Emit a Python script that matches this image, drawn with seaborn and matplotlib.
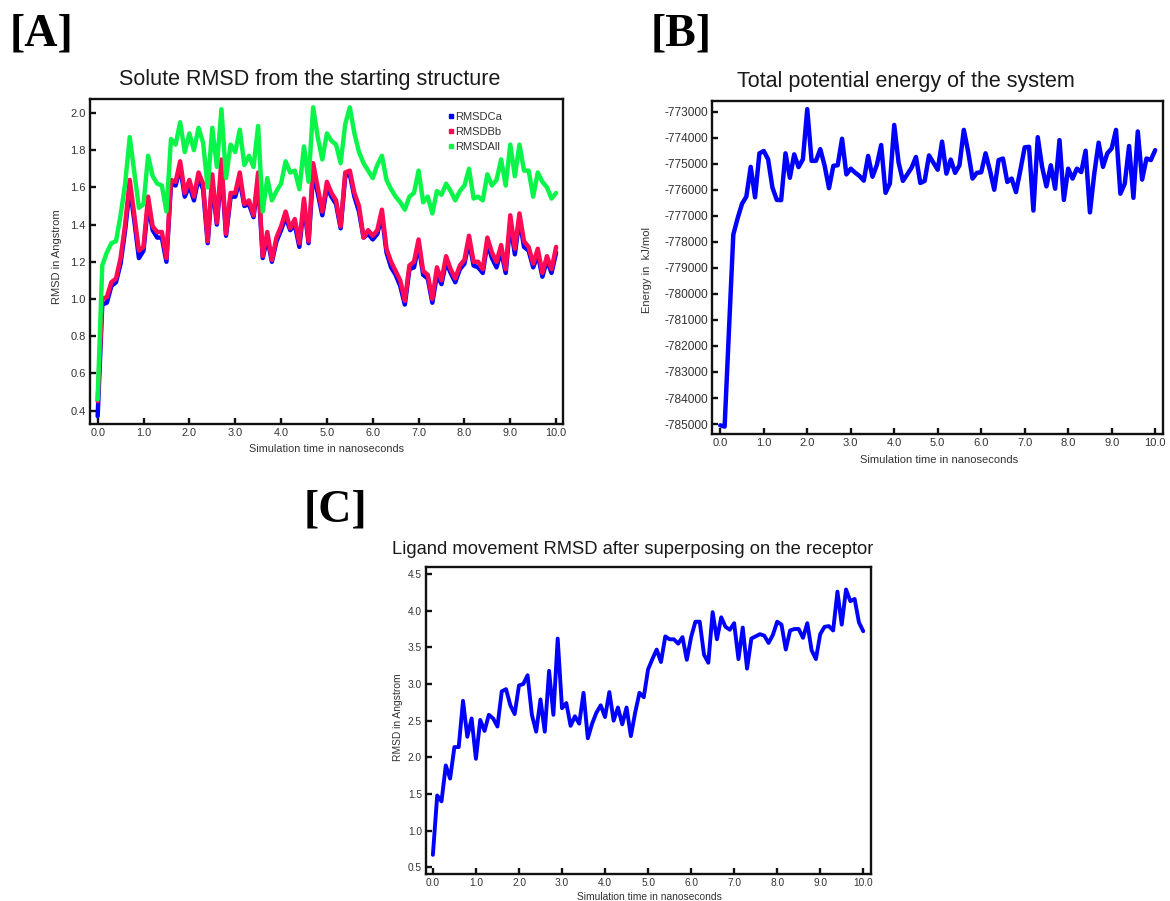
import numpy as np
import pandas as pd
import matplotlib
matplotlib.use("Agg")
import matplotlib.pyplot as plt
from matplotlib.lines import Line2D
import seaborn as sns

# ---------------------------------------------------------
# data (0.1 ns sampling, 0..10 ns)
# ---------------------------------------------------------
time_ns = np.round(np.arange(101) * 0.1, 1)

rmsd_ca = [
    0.37, 0.97, 0.98, 1.07, 1.09, 1.19, 1.37, 1.60, 1.42, 1.22,
    1.26, 1.51, 1.37, 1.33, 1.33, 1.20, 1.62, 1.61, 1.71, 1.55,
    1.61, 1.53, 1.65, 1.59, 1.30, 1.63, 1.40, 1.70, 1.34, 1.55,
    1.55, 1.64, 1.50, 1.51, 1.44, 1.64, 1.22, 1.33, 1.20, 1.31,
    1.37, 1.44, 1.37, 1.40, 1.28, 1.51, 1.30, 1.68, 1.57, 1.45,
    1.60, 1.55, 1.51, 1.38, 1.66, 1.67, 1.55, 1.47, 1.33, 1.35,
    1.32, 1.35, 1.45, 1.25, 1.17, 1.13, 1.07, 0.97, 1.16, 1.17,
    1.29, 1.13, 1.11, 0.98, 1.13, 1.08, 1.20, 1.14, 1.09, 1.16,
    1.19, 1.31, 1.18, 1.17, 1.14, 1.30, 1.22, 1.17, 1.26, 1.14,
    1.41, 1.24, 1.43, 1.28, 1.26, 1.17, 1.24, 1.12, 1.21, 1.14,
    1.25,
]

rmsd_bb = [
    0.45, 1.00, 1.01, 1.09, 1.11, 1.22, 1.40, 1.64, 1.45, 1.26,
    1.28, 1.55, 1.39, 1.36, 1.36, 1.22, 1.64, 1.63, 1.74, 1.57,
    1.64, 1.55, 1.68, 1.62, 1.31, 1.67, 1.41, 1.75, 1.35, 1.57,
    1.57, 1.68, 1.51, 1.53, 1.45, 1.68, 1.23, 1.36, 1.21, 1.33,
    1.39, 1.47, 1.38, 1.43, 1.30, 1.54, 1.31, 1.73, 1.60, 1.47,
    1.63, 1.57, 1.53, 1.39, 1.68, 1.69, 1.57, 1.50, 1.33, 1.37,
    1.34, 1.37, 1.48, 1.27, 1.20, 1.15, 1.10, 0.99, 1.18, 1.20,
    1.32, 1.15, 1.13, 1.00, 1.17, 1.10, 1.23, 1.16, 1.11, 1.18,
    1.21, 1.34, 1.20, 1.20, 1.16, 1.33, 1.25, 1.20, 1.29, 1.16,
    1.45, 1.27, 1.46, 1.31, 1.28, 1.19, 1.27, 1.14, 1.23, 1.16,
    1.28,
]

rmsd_all = [
    0.46, 1.18, 1.25, 1.30, 1.31, 1.45, 1.62, 1.87, 1.68, 1.49,
    1.51, 1.77, 1.66, 1.62, 1.61, 1.47, 1.86, 1.83, 1.95, 1.79,
    1.89, 1.80, 1.92, 1.84, 1.60, 1.92, 1.71, 2.02, 1.65, 1.83,
    1.79, 1.91, 1.72, 1.77, 1.71, 1.93, 1.47, 1.65, 1.53, 1.58,
    1.62, 1.74, 1.68, 1.69, 1.59, 1.82, 1.63, 2.03, 1.87, 1.75,
    1.89, 1.85, 1.83, 1.73, 1.94, 2.03, 1.89, 1.79, 1.73, 1.69,
    1.65, 1.72, 1.77, 1.64, 1.59, 1.55, 1.52, 1.48, 1.55, 1.57,
    1.69, 1.52, 1.55, 1.46, 1.58, 1.56, 1.62, 1.58, 1.53, 1.58,
    1.61, 1.70, 1.54, 1.55, 1.53, 1.67, 1.61, 1.64, 1.75, 1.61,
    1.83, 1.66, 1.83, 1.69, 1.69, 1.55, 1.68, 1.63, 1.60, 1.54,
    1.57,
]

energy = [
    -785050, -785100, -781400, -777720, -777090, -776540, -776260, -775120, -776290, -774600,
    -774510, -774830, -775920, -776390, -776400, -774600, -775540, -774640, -775130, -774830,
    -772900, -774890, -774890, -774440, -775080, -775940, -775080, -775060, -774040, -775410,
    -775190, -775340, -775470, -775650, -774700, -775500, -775050, -774280, -776120, -775760,
    -773510, -774950, -775660, -775410, -775150, -774740, -775740, -775660, -774680, -774960,
    -775230, -774150, -775380, -774840, -775350, -775060, -773700, -774540, -775570, -775350,
    -775330, -774600, -775250, -776000, -774860, -774800, -775700, -775570, -776090, -775250,
    -774370, -774350, -776800, -773980, -775120, -775870, -775060, -775960, -774090, -776390,
    -775190, -775570, -775190, -775320, -774500, -776870, -775380, -774190, -775120, -774600,
    -774410, -773700, -776150, -775770, -774320, -776310, -773760, -775610, -774800, -774860,
    -774480,
]

ligand_rmsd = [
    0.67, 1.48, 1.40, 1.89, 1.71, 2.14, 2.14, 2.77, 2.28, 2.53,
    1.98, 2.51, 2.36, 2.58, 2.53, 2.42, 2.90, 2.93, 2.71, 2.59,
    2.98, 3.00, 3.12, 2.58, 2.35, 2.79, 2.35, 3.18, 2.58, 3.62,
    2.67, 2.74, 2.43, 2.56, 2.46, 2.88, 2.26, 2.46, 2.61, 2.71,
    2.55, 2.89, 2.50, 2.68, 2.45, 2.68, 2.29, 2.61, 2.88, 2.82,
    3.20, 3.34, 3.47, 3.30, 3.65, 3.61, 3.61, 3.55, 3.64, 3.33,
    3.64, 3.85, 3.85, 3.40, 3.29, 3.98, 3.61, 3.91, 3.78, 3.74,
    3.83, 3.34, 3.77, 3.21, 3.62, 3.65, 3.68, 3.66, 3.56, 3.67,
    3.85, 3.81, 3.47, 3.73, 3.75, 3.75, 3.63, 3.83, 3.46, 3.34,
    3.68, 3.78, 3.79, 3.73, 4.26, 3.81, 4.29, 4.13, 4.16, 3.84,
    3.72,
]

x_ticks = [0, 1, 2, 3, 4, 5, 6, 7, 8, 9, 10]
x_tick_labels = ["0.0", "1.0", "2.0", "3.0", "4.0", "5.0", "6.0", "7.0", "8.0", "9.0", "10.0"]
a_yticks = [0.4, 0.6, 0.8, 1.0, 1.2, 1.4, 1.6, 1.8, 2.0]
a_ytick_labels = ["0.4", "0.6", "0.8", "1.0", "1.2", "1.4", "1.6", "1.8", "2.0"]
b_yticks = [-785000, -784000, -783000, -782000, -781000, -780000,
            -779000, -778000, -777000, -776000, -775000, -774000, -773000]
b_ytick_labels = ["-785000", "-784000", "-783000", "-782000", "-781000", "-780000",
                  "-779000", "-778000", "-777000", "-776000", "-775000", "-774000", "-773000"]
c_yticks = [0.5, 1.0, 1.5, 2.0, 2.5, 3.0, 3.5, 4.0, 4.5]
c_ytick_labels = ["0.5", "1.0", "1.5", "2.0", "2.5", "3.0", "3.5", "4.0", "4.5"]

series_names = ["RMSDCa", "RMSDBb", "RMSDAll"]
series_colors = ["#0000ff", "#ff0a54", "#0af54a"]

df_a = pd.DataFrame({"time": time_ns, "RMSDCa": rmsd_ca, "RMSDBb": rmsd_bb, "RMSDAll": rmsd_all})
df_b = pd.DataFrame({"time": time_ns, "energy": energy})
df_c = pd.DataFrame({"time": time_ns, "rmsd": ligand_rmsd})

# =========================================================
# STYLE
# =========================================================
sns.set_style("ticks")
plt.rcParams["font.family"] = ["Liberation Sans", "DejaVu Sans"]

W, H = 1170, 901
fig = plt.figure(figsize=(W / 100, H / 100), dpi=100)


def box(x0, y0, x1, y1):
    # pixel box (top-left origin) -> figure fraction rect
    return [x0 / W, 1 - y1 / H, (x1 - x0) / W, (y1 - y0) / H]


def style_axes(ax, yticks, ylabels, ysize, xsize):
    for sp in ax.spines.values():
        sp.set_linewidth(1.7)
        sp.set_color("#111111")
    ax.set_xticks(x_ticks)
    ax.set_xticklabels(x_tick_labels)
    ax.set_yticks(yticks)
    ax.set_yticklabels(ylabels)
    ax.tick_params(axis="both", direction="in", length=4.5, width=1.7,
                   color="#111111", labelcolor="#333333", pad=3)
    ax.tick_params(axis="y", labelsize=ysize)
    ax.tick_params(axis="x", labelsize=xsize)


# ---------------- panel A ----------------
ax_a = fig.add_axes(box(90, 99, 563, 424))
for name, col in zip(series_names, series_colors):
    sns.lineplot(data=df_a, x="time", y=name, ax=ax_a, color=col, lw=3.2, legend=False)
ax_a.set_xlim(-0.167, 10.15)
ax_a.set_ylim(0.328, 2.075)
style_axes(ax_a, a_yticks, a_ytick_labels, 8, 7.8)
ax_a.set_xlabel("Simulation time in nanoseconds", fontsize=7.8, color="#333333")
ax_a.set_ylabel("RMSD in Angstrom", fontsize=8, color="#333333")
ax_a.xaxis.set_label_coords(0.5, -0.077)
ax_a.xaxis.label.set_va("center")
ax_a.yaxis.set_label_coords(-0.070, 0.514)
ax_a.yaxis.label.set_va("center")
handles = [Line2D([], [], marker="s", linestyle="none", color=c, markersize=3.5) for c in series_colors]
ax_a.legend(handles, series_names, loc="upper left", bbox_to_anchor=(0.748, 0.975),
            frameon=False, fontsize=8, handlelength=0.5, handletextpad=0.15,
            labelspacing=0.45, borderaxespad=0, labelcolor="#333333")

# ---------------- panel B ----------------
ax_b = fig.add_axes(box(712, 101, 1163, 434))
sns.lineplot(data=df_b, x="time", y="energy", ax=ax_b, color="#0000ff", lw=3.2, legend=False)
ax_b.set_xlim(-0.19, 10.18)
ax_b.set_ylim(-785383, -772590)
style_axes(ax_b, b_yticks, b_ytick_labels, 8.6, 8)
ax_b.set_xlabel("Simulation time in nanoseconds", fontsize=8, color="#333333")
ax_b.set_ylabel("Energy in  kJ/mol", fontsize=8, color="#333333")
ax_b.xaxis.set_label_coords(0.503, -0.078)
ax_b.xaxis.label.set_va("center")
ax_b.yaxis.set_label_coords(-0.144, 0.492)
ax_b.yaxis.label.set_va("center")

# ---------------- panel C ----------------
ax_c = fig.add_axes(box(426, 567, 871, 874))
sns.lineplot(data=df_c, x="time", y="rmsd", ax=ax_c, color="#0000ff", lw=2.8, legend=False)
ax_c.set_xlim(-0.16, 10.18)
ax_c.set_ylim(0.409, 4.596)
style_axes(ax_c, c_yticks, c_ytick_labels, 7.3, 7.3)
ax_c.set_xlabel("Simulation time in nanoseconds", fontsize=7.4, color="#333333")
ax_c.set_ylabel("RMSD in Angstrom", fontsize=7.4, color="#333333")
ax_c.xaxis.set_label_coords(0.501, -0.075)
ax_c.xaxis.label.set_va("center")
ax_c.yaxis.set_label_coords(-0.063, 0.511)
ax_c.yaxis.label.set_va("center")

# ---------------- titles and panel tags ----------------
fig.text(310 / W, 1 - 80 / H, "Solute RMSD from the starting structure",
         ha="center", va="center", fontsize=15.5, color="#1a1a1a")
fig.text(906 / W, 1 - 81 / H, "Total potential energy of the system",
         ha="center", va="center", fontsize=15.5, color="#1a1a1a")
fig.text(633 / W, 1 - 550 / H, "Ligand movement RMSD after superposing on the receptor",
         ha="center", va="center", fontsize=13.2, color="#1a1a1a")

tag_font = dict(family=["Liberation Serif", "DejaVu Serif"], fontweight="bold",
                fontsize=33, color="black", ha="left", va="center")
fig.text(10 / W, 1 - 35 / H, "[A]", **tag_font)
fig.text(651 / W, 1 - 35 / H, "[B]", **tag_font)
fig.text(304 / W, 1 - 510 / H, "[C]", **tag_font)

fig.savefig("out.png", dpi=100, facecolor="white")
